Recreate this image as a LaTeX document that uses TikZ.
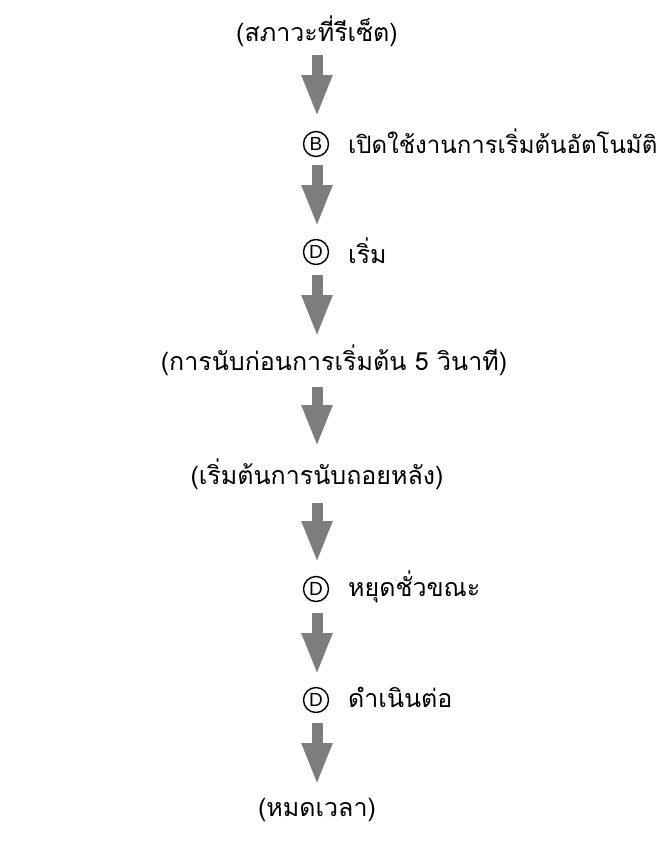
\documentclass[tikz,border=0pt]{standalone}
\usepackage{fontspec}
\newfontfamily\thaifont[Script=Thai]{Loma}
\newfontfamily\symfont{Liberation Sans}
\usetikzlibrary{arrows.meta}
\definecolor{arrowgray}{RGB}{125,125,125}
\tikzset{
  lbl/.style={inner sep=0pt, font=\thaifont\fontsize{25}{30}\selectfont},
  circ/.style={circle, draw=black, line width=1.4pt, minimum size=25pt, inner sep=0pt, font=\symfont\fontsize{19}{21}\selectfont},
  blk/.style={draw=arrowgray, line width=11pt, -{Triangle[length=42pt,width=28pt,fill=arrowgray]}}
}
\begin{document}
\begin{tikzpicture}[x=1pt,y=-1pt]
\useasboundingbox (0,0) rectangle (667,846);
% texts
\node[lbl] (t0) at (317,31) {(สภาวะที่รีเซ็ต)};
\node[circ] (c1) at (316,144) {B};
\node[lbl,anchor=west,font=\thaifont\fontsize{24}{29}\selectfont] (t1) at (348,141) {เปิดใช้งานการเริ่มต้นอัตโนมัติ};
\node[circ] (c2) at (316,252) {D};
\node[lbl,anchor=west] (t2) at (348,251) {เริ่ม};
\node[lbl] (t3) at (334,360) {(การนับก่อนการเริ่มต้น 5 วินาที)};
\node[lbl] (t4) at (317,474) {(เริ่มต้นการนับถอยหลัง)};
\node[circ] (c5) at (316,589) {D};
\node[lbl,anchor=west] (t5) at (348,587) {หยุดชั่วขณะ};
\node[circ] (c6) at (316,700) {D};
\node[lbl,anchor=west] (t6) at (348,697) {ดำเนินต่อ};
\node[lbl] (t7) at (317,810) {(หมดเวลา)};
% arrow ends
\coordinate (a1s) at (317,55);  \coordinate (a1e) at (317,117);
\coordinate (a2s) at (317,165); \coordinate (a2e) at (317,227);
\coordinate (a3s) at (317,275); \coordinate (a3e) at (317,337);
\coordinate (a4s) at (317,387); \coordinate (a4e) at (317,447);
\coordinate (a5s) at (317,503); \coordinate (a5e) at (317,563);
\coordinate (a6s) at (317,613); \coordinate (a6e) at (317,675);
\coordinate (a7s) at (317,723); \coordinate (a7e) at (317,785);
\draw[blk] (a1s) -- (a1e);
\draw[blk] (a2s) -- (a2e);
\draw[blk] (a3s) -- (a3e);
\draw[blk] (a4s) -- (a4e);
\draw[blk] (a5s) -- (a5e);
\draw[blk] (a6s) -- (a6e);
\draw[blk] (a7s) -- (a7e);
\end{tikzpicture}
\end{document}
